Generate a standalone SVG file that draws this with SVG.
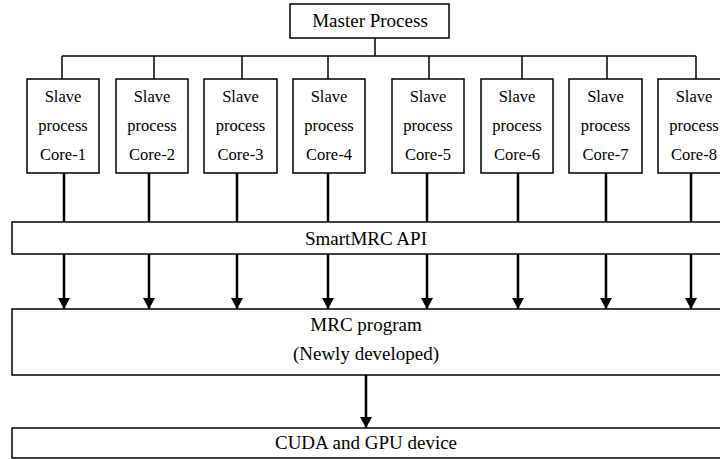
<svg xmlns="http://www.w3.org/2000/svg" width="720" height="459" viewBox="0 0 720 459">
<defs>
<style>
.box{fill:#fff;stroke:#000;stroke-width:1.5}
.thin{stroke:#000;stroke-width:1.5;fill:none}
.thick{stroke:#000;stroke-width:2.5;fill:none}
text{font-family:'Liberation Serif',serif;font-size:19px;fill:#000;text-anchor:middle}
.s{font-size:16.5px}
</style>
<marker id="ar" markerUnits="userSpaceOnUse" markerWidth="11" markerHeight="12" refX="11" refY="6" orient="auto" viewBox="0 0 11 12">
<path d="M0,0 L11,6 L0,12 Z" fill="#000"/>
</marker>
</defs>
<g id="connectors">
<path class="thin" d="M375,38 V56 M62,56 H696 M62,56 V79 M154,56 V79 M242,56 V79 M328,56 V79 M429,56 V79 M522,56 V79 M607,56 V79 M696,56 V79"/>
<path class="thick" d="M64,173 V222 M149,173 V222 M237,173 V222 M328,173 V222 M427,173 V222 M518,173 V222 M606,173 V222 M691,173 V222"/>
<g class="thick" marker-end="url(#ar)">
<line x1="64" y1="254" x2="64" y2="309"/>
<line x1="149" y1="254" x2="149" y2="309"/>
<line x1="237" y1="254" x2="237" y2="309"/>
<line x1="328" y1="254" x2="328" y2="309"/>
<line x1="427" y1="254" x2="427" y2="309"/>
<line x1="518" y1="254" x2="518" y2="309"/>
<line x1="606" y1="254" x2="606" y2="309"/>
<line x1="691" y1="254" x2="691" y2="309"/>
<line x1="366" y1="375" x2="366" y2="428"/>
</g>
</g>
<g font-family="Liberation Serif, serif">
<g id="master">
<rect class="box" x="290" y="4" width="159" height="34"/>
<text x="370" y="27">Master Process</text>
</g>
<g id="slave1" class="s"><rect class="box" x="27" y="79" width="72" height="94"/><text class="s" x="63" y="102">Slave</text><text class="s" x="63" y="131">process</text><text class="s" x="63" y="160">Core-1</text></g>
<g id="slave2"><rect class="box" x="116" y="79" width="72" height="94"/><text class="s" x="152" y="102">Slave</text><text class="s" x="152" y="131">process</text><text class="s" x="152" y="160">Core-2</text></g>
<g id="slave3"><rect class="box" x="204" y="79" width="73" height="94"/><text class="s" x="240.5" y="102">Slave</text><text class="s" x="240.5" y="131">process</text><text class="s" x="240.5" y="160">Core-3</text></g>
<g id="slave4"><rect class="box" x="293" y="79" width="72" height="94"/><text class="s" x="329" y="102">Slave</text><text class="s" x="329" y="131">process</text><text class="s" x="329" y="160">Core-4</text></g>
<g id="slave5"><rect class="box" x="392" y="79" width="72" height="94"/><text class="s" x="428" y="102">Slave</text><text class="s" x="428" y="131">process</text><text class="s" x="428" y="160">Core-5</text></g>
<g id="slave6"><rect class="box" x="481" y="79" width="72" height="94"/><text class="s" x="517" y="102">Slave</text><text class="s" x="517" y="131">process</text><text class="s" x="517" y="160">Core-6</text></g>
<g id="slave7"><rect class="box" x="569" y="79" width="73" height="94"/><text class="s" x="605.5" y="102">Slave</text><text class="s" x="605.5" y="131">process</text><text class="s" x="605.5" y="160">Core-7</text></g>
<g id="slave8"><rect class="box" x="658" y="79" width="72" height="94"/><text class="s" x="694" y="102">Slave</text><text class="s" x="694" y="131">process</text><text class="s" x="694" y="160">Core-8</text></g>
<g id="api">
<rect class="box" x="12" y="222" width="720" height="32"/>
<text x="366" y="245">SmartMRC API</text>
</g>
<g id="mrc">
<rect class="box" x="12" y="309" width="720" height="66"/>
<text x="366" y="331">MRC program</text>
<text x="366" y="360">(Newly developed)</text>
</g>
<g id="cuda">
<rect class="box" x="12" y="428" width="720" height="30"/>
<text x="366" y="449">CUDA and GPU device</text>
</g>
</g>
</svg>
